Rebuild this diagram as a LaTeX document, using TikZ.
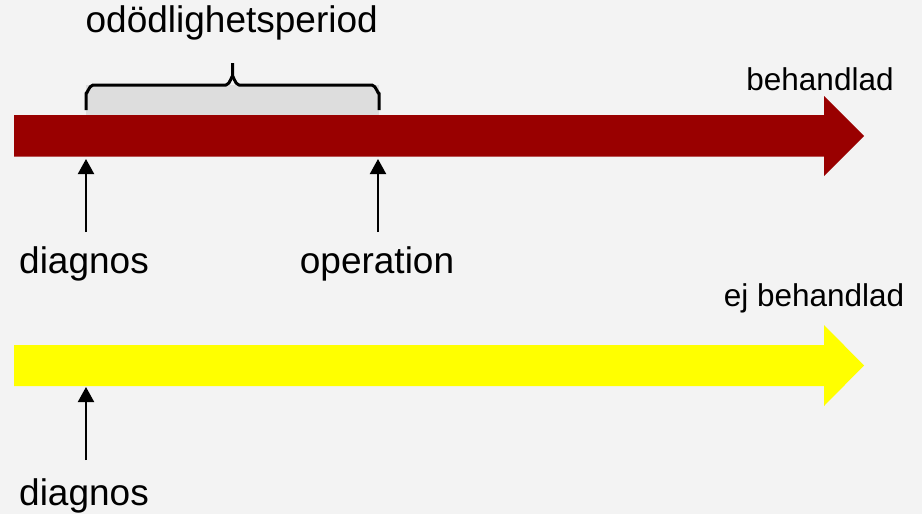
\documentclass[tikz,border=0pt]{standalone}
\usepackage{fontspec}
\setmainfont{Liberation Sans}
\usetikzlibrary{arrows.meta}
\definecolor{bg}{HTML}{F3F3F3}
\definecolor{darkred}{HTML}{990000}
\definecolor{brightyellow}{HTML}{FFFF00}
\definecolor{bracefill}{HTML}{DDDDDD}
\tikzset{
  biglabel/.style={anchor=base, inner sep=0pt, font=\fontsize{37}{44}\selectfont},
  smalllabel/.style={anchor=base, inner sep=0pt, font=\fontsize{31.5}{38}\selectfont},
  pointer/.style={line width=2pt, -{Triangle[width=16pt,length=15pt]}},
  bracepath/.style={line width=3pt, line join=round, line cap=butt},
}
\begin{document}
\begin{tikzpicture}[x=1pt,y=-1pt]
\fill[bg] (0,0) rectangle (922,514);
\useasboundingbox (0,0) rectangle (922,514);
% gray area under brace
\fill[bracefill] (86,85) rectangle (379,115);
% brace
\draw[bracepath] (86,110) -- (86,93) to[out=-90,in=180] (93,85) -- (226,85)
  to[out=0,in=90] (232.5,77) -- (232.5,63);
\draw[bracepath] (232.5,77) to[out=90,in=180] (239,85) -- (372,85)
  to[out=0,in=-90] (379,93) -- (379,110);
% red timeline arrow
\fill[darkred] (14,115) -- (824,115) -- (824,96) -- (864,136) -- (824,176)
  -- (824,156.5) -- (14,156.5) -- cycle;
% yellow timeline arrow
\fill[brightyellow] (14,345) -- (824,345) -- (824,325) -- (864,365.5) -- (824,406)
  -- (824,386) -- (14,386) -- cycle;
% labels
\node[biglabel] (period) at (231.7,32.5) {odödlighetsperiod};
\node[smalllabel] (beh) at (820,90.7) {behandlad};
\node[biglabel] (diag1) at (84,273) {diagnos};
\node[biglabel] (oper) at (377,273) {operation};
\node[smalllabel] (ejbeh) at (814,306.7) {ej behandlad};
\node[biglabel] (diag2) at (84,505) {diagnos};
% pointer arrows
\coordinate (d1s) at (86,232);
\coordinate (d1t) at (86,159);
\coordinate (ops) at (378,232);
\coordinate (opt) at (378,159);
\coordinate (d2s) at (86,460);
\coordinate (d2t) at (86,387);
\draw[pointer] (d1s) -- (d1t);
\draw[pointer] (ops) -- (opt);
\draw[pointer] (d2s) -- (d2t);
\end{tikzpicture}
\end{document}
